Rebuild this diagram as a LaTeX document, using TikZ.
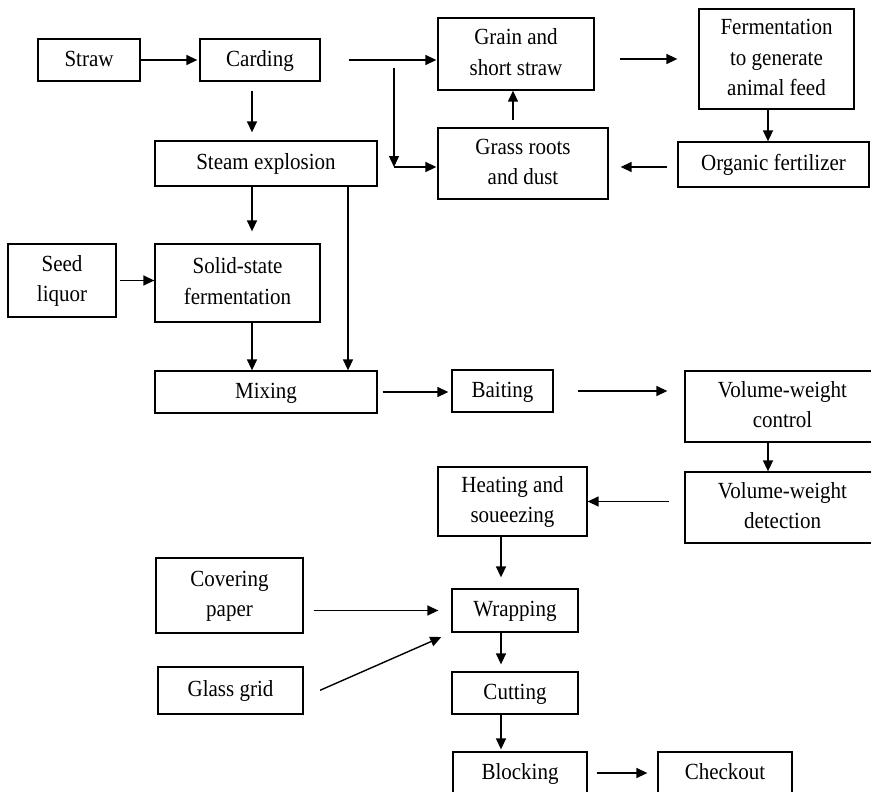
\documentclass[tikz,border=0pt]{standalone}
\usepackage{fontspec}
\usepackage{graphicx}
\setmainfont{Liberation Serif}
\usetikzlibrary{arrows.meta}
\newcommand\boxtxt[1]{\scalebox{1}[1.1]{\renewcommand\arraystretch{1}\setlength\tabcolsep{0pt}\begin{tabular}{c}#1\end{tabular}}}
\begin{document}
\begin{tikzpicture}[x=1pt,y=-1pt,
  box/.style={draw,line width=1.3pt,rectangle,inner sep=0pt,
    font=\fontsize{21}{27.3}\selectfont},
  arr/.style={line width=1.4pt,-{Triangle[length=11pt,width=10pt]}}]
\useasboundingbox (0,0) rectangle (871,792);
\fill[white] (0,0) rectangle (871,792);
% nodes
\node[box,minimum width=102pt,minimum height=42pt] (straw) at (89,60) {\boxtxt{Straw}};
\node[box,minimum width=120pt,minimum height=42pt] (carding) at (260,60) {\boxtxt{Carding}};
\node[box,minimum width=222pt,minimum height=45pt] (steam) at (266,163.5) {\boxtxt{Steam explosion}};
\node[box,minimum width=156pt,minimum height=72pt] (grain) at (516,54) {\boxtxt{Grain and\\short straw}};
\node[box,minimum width=155pt,minimum height=100pt] (ferm) at (776.5,59) {\boxtxt{Fermentation\\to generate\\animal feed}};
\node[box,minimum width=191pt,minimum height=45pt] (organic) at (773.5,164.5) {\boxtxt{Organic fertilizer}};
\node[box,minimum width=170pt,minimum height=71pt] (grass) at (523,163.5) {\boxtxt{Grass roots\\and dust}};
\node[box,minimum width=108pt,minimum height=73pt] (seed) at (62,280.5) {\boxtxt{Seed\\liquor}};
\node[box,minimum width=165pt,minimum height=78pt] (solid) at (237.5,283) {\boxtxt{Solid-state\\fermentation}};
\node[box,minimum width=222pt,minimum height=42pt] (mixing) at (266,392) {\boxtxt{Mixing}};
\node[box,minimum width=101pt,minimum height=42pt] (baiting) at (502.5,391) {\boxtxt{Baiting}};
\node[box,minimum width=195pt,minimum height=71pt] (volctl) at (782.5,406.5) {\boxtxt{Volume-weight\\control}};
\node[box,minimum width=195pt,minimum height=71pt] (voldet) at (782.5,507.5) {\boxtxt{Volume-weight\\detection}};
\node[box,minimum width=149pt,minimum height=69pt] (heat) at (512.5,501.5) {\boxtxt{Heating and\\soueezing}};
\node[box,minimum width=147pt,minimum height=75pt] (cover) at (229.5,595.5) {\boxtxt{Covering\\paper}};
\node[box,minimum width=145pt,minimum height=47pt] (glass) at (230.5,690.5) {\boxtxt{Glass grid}};
\node[box,minimum width=126pt,minimum height=43pt] (wrap) at (515,610.5) {\boxtxt{Wrapping}};
\node[box,minimum width=126pt,minimum height=42pt] (cut) at (515,693) {\boxtxt{Cutting}};
\node[box,minimum width=134pt,minimum height=42pt] (block) at (520,773) {\boxtxt{Blocking}};
\node[box,minimum width=134pt,minimum height=42pt] (check) at (725,773) {\boxtxt{Checkout}};
% column coordinates
\coordinate (colA) at (252,0);
\coordinate (colB) at (348,0);
\coordinate (colC) at (768,0);
\coordinate (colD) at (501,0);
\coordinate (colE) at (513,0);
\coordinate (j1) at (394,68);
\coordinate (j2) at (394,167);
% connectors
\draw[arr,shorten >=2pt] (straw.east) -- (carding.west);
\draw[arr,shorten <=9pt,shorten >=8pt] (carding.south -| colA) -- (steam.north -| colA);
\draw[arr,shorten <=28pt,shorten >=1pt] (carding.east) -- (grain.west |- carding.east);
\draw[arr] (j1) -- (j2);
\draw[arr,shorten >=1pt] (j2) -- (j2 -| grass.west);
\draw[arr,shorten <=7pt] (grass.north -| colE) -- (grain.south -| colE);
\draw[arr,shorten <=25pt,shorten >=21pt] (grain.east |- ferm.west) -- (ferm.west);
\draw[arr] (ferm.south -| colC) -- (organic.north -| colC);
\draw[arr,shorten <=10pt,shorten >=12pt] (organic.west |- j2) -- (grass.east |- j2);
\draw[arr,shorten >=12pt] (steam.south -| colA) -- (solid.north -| colA);
\draw[arr,shorten <=3pt] (seed.east) -- (seed.east -| solid.west);
\draw[arr] (solid.south -| colA) -- (mixing.north -| colA);
\draw[arr] (steam.south -| colB) -- (mixing.north -| colB);
\draw[arr,shorten <=5pt,shorten >=3pt] (mixing.east) -- (mixing.east -| baiting.west);
\draw[arr,shorten <=24pt,shorten >=17pt] (baiting.east) -- (baiting.east -| volctl.west);
\draw[arr] (volctl.south -| colC) -- (voldet.north -| colC);
\draw[arr,shorten <=15pt] (voldet.west |- heat.east) -- (heat.east);
\draw[arr,shorten >=11pt] (heat.south -| colD) -- (wrap.north -| colD);
\draw[arr,shorten <=10pt,shorten >=13pt] (cover.east |- wrap.west) -- (wrap.west);
\draw[arr,shorten <=18pt,shorten >=11pt] ([yshift=-7pt]glass.east) -- (wrap.south west);
\draw[arr,shorten >=7pt] (wrap.south -| colD) -- (cut.north -| colD);
\draw[arr,shorten >=2pt] (cut.south -| colD) -- (block.north -| colD);
\draw[arr,shorten <=9pt,shorten >=10pt] (block.east) -- (check.west);
\end{tikzpicture}
\end{document}
